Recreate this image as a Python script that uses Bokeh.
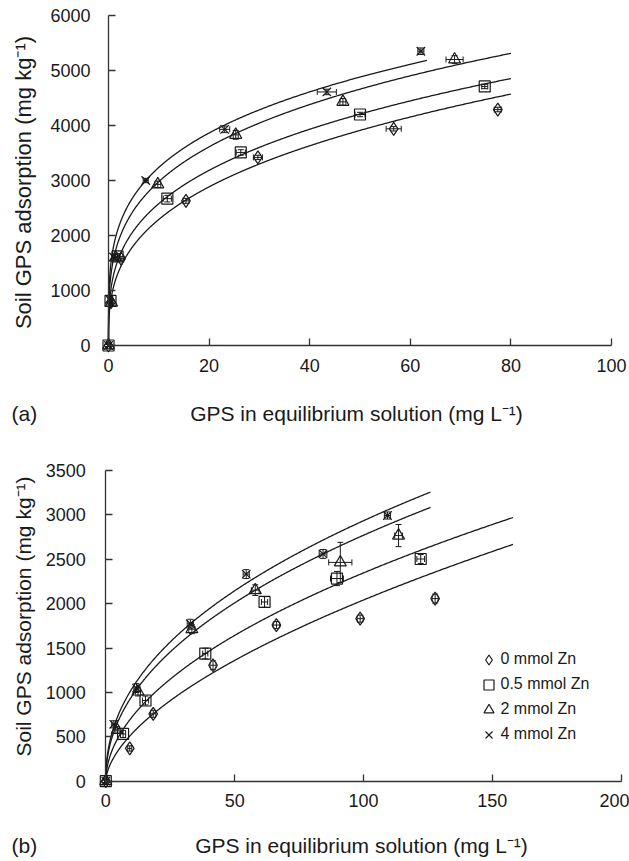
import numpy as np
from bokeh.plotting import figure
from bokeh.models import (ColumnDataSource, Whisker, Label, Legend, LegendItem,
                          FixedTicker, TeeHead, Range1d)
from bokeh.layouts import column
from bokeh.embed import file_html
from bokeh.resources import INLINE

# ---------------- data: panel (a) ----------------
series_names = ["0 mmol Zn", "0.5 mmol Zn", "2 mmol Zn", "4 mmol Zn"]
series_markers = ["diamond", "square", "triangle", "x"]

a_x_zn0 = [0, 0.5, 2.5, 15.4, 29.7, 56.7, 77.4]
a_y_zn0 = [0, 790, 1580, 2630, 3420, 3940, 4290]
a_xe_zn0 = [0.2, 0.3, 0.6, 0.6, 0.9, 1.5, 0.7]
a_ye_zn0 = [20, 50, 40, 45, 40, 40, 40]

a_x_zn05 = [0, 0.4, 1.8, 11.7, 26.3, 50.0, 74.8]
a_y_zn05 = [0, 810, 1620, 2670, 3510, 4200, 4710]
a_xe_zn05 = [0.2, 0.3, 0.5, 0.8, 0.9, 1.0, 0.6]
a_ye_zn05 = [20, 40, 50, 60, 50, 40, 40]

a_x_zn2 = [0, 0.6, 1.4, 9.8, 25.3, 46.6, 68.8]
a_y_zn2 = [0, 780, 1600, 2930, 3830, 4430, 5200]
a_xe_zn2 = [0.2, 0.3, 0.4, 0.6, 0.5, 0.6, 1.7]
a_ye_zn2 = [20, 50, 50, 60, 80, 60, 70]

a_x_zn4 = [0, 0.2, 1.0, 7.4, 23.1, 43.4, 62.1]
a_y_zn4 = [0, 840, 1610, 3000, 3930, 4610, 5350]
a_xe_zn4 = [0.2, 0.3, 0.4, 0.5, 1.0, 1.9, 0.6]
a_ye_zn4 = [20, 40, 40, 40, 60, 50, 60]

# Freundlich fit parameters (q = K * C^n)
a_fit_K = [1067, 1281, 1571, 1800]
a_fit_n = [0.332, 0.304, 0.278, 0.255]
a_fit_xmax = [80, 80, 80, 63.3]

a_xticks = [0, 20, 40, 60, 80, 100]
a_yticks = [0, 1000, 2000, 3000, 4000, 5000, 6000]

# ---------------- data: panel (b) ----------------
b_x_zn0 = [0, 9.3, 18.4, 41.6, 66.2, 98.7, 127.8]
b_y_zn0 = [0, 369, 759, 1306, 1759, 1831, 2057]
b_xe_zn0 = [0.3, 0.8, 1.0, 1.2, 1.3, 1.2, 1.2]
b_ye_zn0 = [15, 30, 40, 50, 40, 40, 50]

b_x_zn05 = [0, 6.7, 15.4, 38.6, 61.6, 89.7, 122.2]
b_y_zn05 = [0, 532, 909, 1438, 2019, 2283, 2503]
b_xe_zn05 = [0.3, 1.0, 1.2, 1.0, 1.2, 2.5, 1.5]
b_ye_zn05 = [15, 40, 50, 60, 60, 80, 50]

b_x_zn2 = [0, 4.4, 12.5, 33.4, 58.0, 91.0, 113.6]
b_y_zn2 = [0, 577, 1010, 1712, 2152, 2465, 2767]
b_xe_zn2 = [0.3, 0.8, 1.0, 1.2, 1.5, 4.5, 1.5]
b_ye_zn2 = [15, 40, 50, 50, 60, 226, 125]

b_x_zn4 = [0, 3.1, 11.9, 32.8, 54.5, 84.3, 109.3]
b_y_zn4 = [0, 641, 1049, 1774, 2333, 2560, 2993]
b_xe_zn4 = [0.3, 0.8, 1.0, 1.2, 1.2, 1.5, 1.2]
b_ye_zn4 = [15, 40, 50, 50, 50, 50, 40]

b_fit_K = [138, 219, 327, 366]
b_fit_n = [0.585, 0.515, 0.464, 0.452]
b_fit_xmax = [158, 158, 126, 126]

b_xticks = [0, 50, 100, 150, 200]
b_yticks = [0, 500, 1000, 1500, 2000, 2500, 3000, 3500]

x_title = "GPS in equilibrium solution (mg L\u207b\u00b9)"
y_title = "Soil GPS adsorption (mg kg\u207b\u00b9)"

FONT = "Liberation Sans"
INK = "#1a1a1a"
W = 629


class Geo:
    """pixel geometry of one panel: canvas size, origin pixel and px-per-unit"""
    def __init__(self, h, x0, xs, y0, ys):
        self.h, self.x0, self.xs, self.y0, self.ys = h, x0, xs, y0, ys

    def dx(self, px):
        return (px - self.x0) / self.xs

    def dy(self, py):
        return (self.y0 - py) / self.ys


def make_fig(g):
    p = figure(width=W, height=g.h,
               x_range=Range1d(g.dx(0), g.dx(W)), y_range=Range1d(g.dy(g.h), g.dy(0)),
               output_backend="svg", toolbar_location=None,
               min_border_left=0, min_border_right=0, min_border_top=0, min_border_bottom=0)
    p.title.visible = False
    p.outline_line_color = None
    p.xgrid.visible = False
    p.ygrid.visible = False
    p.background_fill_color = "white"
    p.border_fill_color = "white"
    return p


def style_axes(p, xt, yt, xb, yb, xstand, ystand):
    for ax in (p.xaxis[0], p.yaxis[0]):
        ax.fixed_location = 0
        ax.axis_line_color = "#333333"
        ax.axis_line_width = 1.3
        ax.major_tick_line_color = "#333333"
        ax.major_tick_line_width = 1.3
        ax.major_tick_in = 7
        ax.major_tick_out = 0
        ax.minor_tick_in = 0
        ax.minor_tick_out = 0
        ax.major_label_text_font = FONT
        ax.major_label_text_font_size = "18px"
        ax.major_label_text_color = INK
        ax.axis_label = None
    p.xaxis[0].ticker = FixedTicker(ticks=xt)
    p.yaxis[0].ticker = FixedTicker(ticks=yt)
    p.xaxis[0].bounds = xb
    p.yaxis[0].bounds = yb
    p.xaxis[0].major_label_standoff = xstand
    p.yaxis[0].major_label_standoff = ystand


def add_series(p, xs, ys, xe, ye, marker, size, cap):
    src = ColumnDataSource(dict(
        x=xs, y=ys,
        xl=[a - b for a, b in zip(xs, xe)], xu=[a + b for a, b in zip(xs, xe)],
        yl=[a - b for a, b in zip(ys, ye)], yu=[a + b for a, b in zip(ys, ye)]))
    for base, lo, hi, dim in (("x", "yl", "yu", "height"), ("y", "xl", "xu", "width")):
        p.add_layout(Whisker(source=src, base=base, lower=lo, upper=hi, dimension=dim,
                             line_color=INK, line_width=1,
                             lower_head=TeeHead(size=cap, line_color=INK, line_width=1),
                             upper_head=TeeHead(size=cap, line_color=INK, line_width=1)))
    return p.scatter("x", "y", source=src, marker=marker, size=size, fill_color=None,
                     line_color=INK, line_width=1.2)


def add_curves(p, Ks, ns, xmaxs):
    for K, n, xm in zip(Ks, ns, xmaxs):
        xx = np.linspace(0, xm, 600) ** 2 / xm  # denser sampling near zero
        p.line(xx, K * xx ** n, line_color=INK, line_width=1.3)


def add_label(p, g, text, px, py, size, angle=0.0, align="center"):
    p.add_layout(Label(x=g.dx(px), y=g.dy(py), text=text, text_font=FONT,
                       text_font_size=size, text_color=INK, text_align=align,
                       text_baseline="middle", angle=angle))


sizes = {"diamond": 13, "square": 11, "triangle": 12, "x": 12}

# ---------------- panel (a) ----------------
ga = Geo(432, 108.0, 5.03, 345.0, 0.055)
pa = make_fig(ga)
style_axes(pa, a_xticks, a_yticks, (0, 100), (0, 6000), 13, 18)
add_curves(pa, a_fit_K, a_fit_n, a_fit_xmax)
a_sets = [(a_x_zn0, a_y_zn0, a_xe_zn0, a_ye_zn0), (a_x_zn05, a_y_zn05, a_xe_zn05, a_ye_zn05),
          (a_x_zn2, a_y_zn2, a_xe_zn2, a_ye_zn2), (a_x_zn4, a_y_zn4, a_xe_zn4, a_ye_zn4)]
for (xs, ys, xe, ye), m in zip(a_sets, series_markers):
    add_series(pa, xs, ys, xe, ye, m, sizes[m], 6)

add_label(pa, ga, x_title, 356, 413, "21px")
add_label(pa, ga, "(a)", 11, 413, "21px", align="left")
add_label(pa, ga, y_title, 23, 182, "22px", angle=np.pi / 2)

# ---------------- panel (b) ----------------
# canvas of panel (b) starts at page y = 432
gb = Geo(429, 105.3, (620.7 - 105.3) / 200, 780.7 - 432, 310.7 / 3500)
pb = make_fig(gb)
style_axes(pb, b_xticks, b_yticks, (0, 200), (0, 3500), 13, 20)
add_curves(pb, b_fit_K, b_fit_n, b_fit_xmax)
b_sets = [(b_x_zn0, b_y_zn0, b_xe_zn0, b_ye_zn0), (b_x_zn05, b_y_zn05, b_xe_zn05, b_ye_zn05),
          (b_x_zn2, b_y_zn2, b_xe_zn2, b_ye_zn2), (b_x_zn4, b_y_zn4, b_xe_zn4, b_ye_zn4)]
renderers = []
for (xs, ys, xe, ye), m in zip(b_sets, series_markers):
    renderers.append(add_series(pb, xs, ys, xe, ye, m, sizes[m], 6))

add_label(pb, gb, x_title, 361, 845 - 432, "21px")
add_label(pb, gb, "(b)", 11, 845 - 432, "21px", align="left")
add_label(pb, gb, y_title, 23, 616 - 432, "21px", angle=np.pi / 2)

legend = Legend(items=[LegendItem(label=n, renderers=[r]) for n, r in zip(series_names, renderers)],
                location=(475.5, 861 - 746.5), orientation="vertical",
                border_line_color=None, background_fill_alpha=0,
                label_text_font=FONT, label_text_font_size="16px", label_text_color=INK,
                glyph_width=25, glyph_height=25, label_height=25, spacing=0,
                padding=0, margin=0, label_standoff=0)
pb.add_layout(legend)

layout = column(pa, pb)
open("out.html", "w").write(file_html(layout, INLINE))
